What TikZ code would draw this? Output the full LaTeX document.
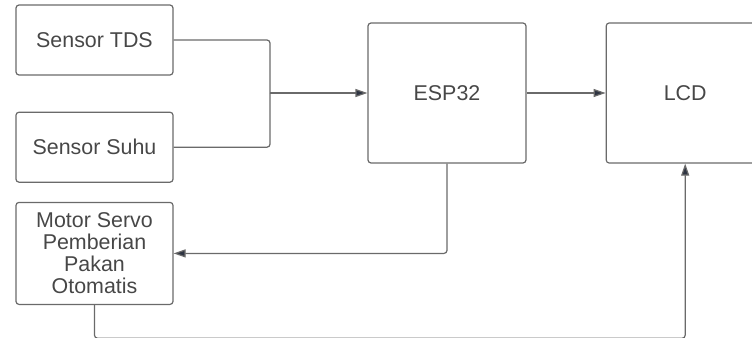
\documentclass[tikz,border=0pt]{standalone}
\usepackage{fontspec}
\setmainfont{Liberation Sans}
\usepackage{xcolor}
\usetikzlibrary{positioning,arrows.meta,calc}

\definecolor{boxline}{HTML}{6A6A6A}
\definecolor{txtgray}{HTML}{474747}
\definecolor{tipdark}{HTML}{2E3442}

\begin{document}
\begin{tikzpicture}[
  node distance=9.5pt,
  blk/.style={draw=boxline, line width=0.6pt, rounded corners=1.5pt, align=center,
              font=\fontsize{10.7}{11}\selectfont, text=txtgray,
              minimum width=78.5pt, minimum height=35pt, inner sep=2pt},
  bigblk/.style={blk, minimum width=79pt, minimum height=70pt},
  >={Triangle[length=6pt, width=4pt, fill=tipdark]},
  link/.style={draw=boxline, line width=0.6pt, rounded corners=1.5pt}
]
  \useasboundingbox (0,0) rectangle (376pt,-169pt);

  % --- sensors and actuator
  \node[blk] (tds) at (47.25pt,-20pt) {Sensor TDS};
  \node[blk] (suhu) [below=18pt of tds] {Sensor Suhu};
  \node[blk, minimum height=51pt] (servo) [below=of suhu]
        {Motor Servo\\Pemberian\\Pakan\\Otomatis};

  % --- controller and display
  \node[bigblk] (esp) at (223.5pt,-46.5pt) {ESP32};
  \node[bigblk] (lcd) [right=39.5pt of esp] {LCD};

  \coordinate (join) at (135pt,-46.5pt);

  \draw[link] (tds.east) -| (join);
  \draw[link] (suhu.east) -| (join);
  \draw[link, ->] (join) -- (esp.west);
  \draw[link, ->] (esp.east) -- (lcd.west);
  \draw[link, ->] (esp.south) |- (servo.east);
  \draw[link, ->] (servo.south) -- ++(0,-16.6pt) -| (lcd.south);
\end{tikzpicture}
\end{document}
